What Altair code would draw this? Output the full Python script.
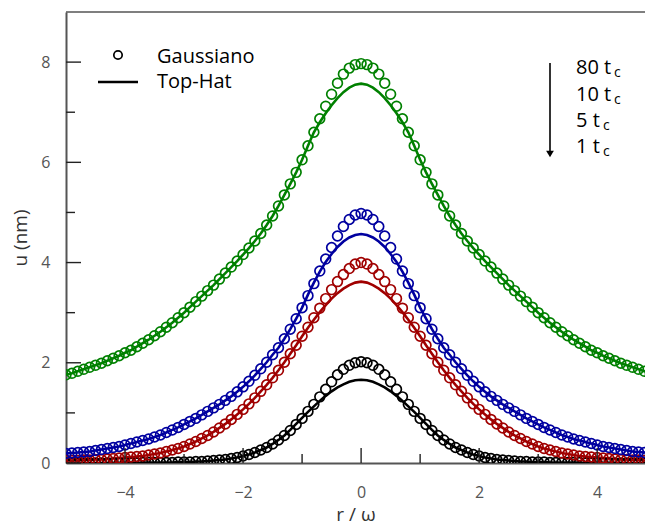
import altair as alt
import pandas as pd

# radial positions (half profile, r >= 0); profiles are symmetric about r = 0
r_half = [round(0.1 * i, 1) for i in range(51)]

series_names = ["1 tc", "5 tc", "10 tc", "80 tc"]
series_colors = ["#000000", "#a00000", "#0000a0", "#008000"]

gauss_80 = [7.97, 7.95, 7.88, 7.76, 7.58, 7.36, 7.12, 6.87, 6.60, 6.33,
            6.05, 5.80, 5.57, 5.35, 5.13, 4.93, 4.75, 4.58, 4.43, 4.29,
            4.16, 4.03, 3.91, 3.79, 3.67, 3.55, 3.44, 3.33, 3.22, 3.11,
            3.00, 2.90, 2.80, 2.71, 2.62, 2.54, 2.46, 2.39, 2.32, 2.25,
            2.20, 2.14, 2.09, 2.04, 1.99, 1.95, 1.91, 1.87, 1.83, 1.79, 1.76]
tophat_80 = [7.57, 7.55, 7.49, 7.40, 7.28, 7.14, 6.98, 6.80, 6.60, 6.33,
             6.05, 5.80, 5.57, 5.35, 5.13, 4.93, 4.75, 4.58, 4.43, 4.29,
             4.16, 4.03, 3.91, 3.79, 3.67, 3.55, 3.44, 3.33, 3.22, 3.11,
             3.00, 2.90, 2.80, 2.71, 2.62, 2.54, 2.46, 2.39, 2.32, 2.25,
             2.20, 2.14, 2.09, 2.04, 1.99, 1.95, 1.91, 1.87, 1.83, 1.79, 1.76]

gauss_10 = [4.98, 4.95, 4.86, 4.72, 4.53, 4.30, 4.07, 3.83, 3.58, 3.34,
            3.10, 2.88, 2.67, 2.48, 2.30, 2.16, 2.01, 1.88, 1.75, 1.63,
            1.52, 1.42, 1.33, 1.25, 1.17, 1.10, 1.03, 0.96, 0.89, 0.83,
            0.77, 0.71, 0.66, 0.61, 0.56, 0.52, 0.48, 0.45, 0.42, 0.39,
            0.36, 0.33, 0.31, 0.29, 0.27, 0.25, 0.23, 0.22, 0.21, 0.20, 0.19]
tophat_10 = [4.57, 4.55, 4.50, 4.42, 4.31, 4.17, 4.01, 3.82, 3.60, 3.36,
             3.10, 2.88, 2.67, 2.48, 2.30, 2.16, 2.01, 1.88, 1.75, 1.63,
             1.52, 1.42, 1.33, 1.25, 1.17, 1.10, 1.03, 0.96, 0.89, 0.83,
             0.77, 0.71, 0.66, 0.61, 0.56, 0.52, 0.48, 0.45, 0.42, 0.39,
             0.36, 0.33, 0.31, 0.29, 0.27, 0.25, 0.23, 0.22, 0.21, 0.20, 0.19]

gauss_5 = [4.00, 3.97, 3.88, 3.76, 3.62, 3.46, 3.28, 3.09, 2.90, 2.71,
           2.53, 2.35, 2.18, 2.01, 1.85, 1.70, 1.56, 1.43, 1.30, 1.18,
           1.07, 0.97, 0.87, 0.78, 0.70, 0.62, 0.55, 0.49, 0.43, 0.38,
           0.33, 0.29, 0.26, 0.23, 0.20, 0.18, 0.16, 0.14, 0.13, 0.12,
           0.11, 0.10, 0.09, 0.08, 0.07, 0.07, 0.06, 0.06, 0.05, 0.05, 0.05]
tophat_5 = [3.62, 3.60, 3.55, 3.48, 3.39, 3.28, 3.15, 3.01, 2.86, 2.70,
            2.53, 2.35, 2.18, 2.01, 1.85, 1.70, 1.56, 1.43, 1.30, 1.18,
            1.07, 0.97, 0.87, 0.78, 0.70, 0.62, 0.55, 0.49, 0.43, 0.38,
            0.33, 0.29, 0.26, 0.23, 0.20, 0.18, 0.16, 0.14, 0.13, 0.12,
            0.11, 0.10, 0.09, 0.08, 0.07, 0.07, 0.06, 0.06, 0.05, 0.05, 0.05]

gauss_1 = [2.02, 2.00, 1.95, 1.87, 1.76, 1.62, 1.47, 1.32, 1.17, 1.03,
           0.89, 0.77, 0.65, 0.55, 0.46, 0.38, 0.31, 0.26, 0.21, 0.17,
           0.14, 0.11, 0.09, 0.07, 0.06, 0.05, 0.04, 0.03, 0.03, 0.02,
           0.02, 0.02, 0.01, 0.01, 0.01, 0.01, 0.01, 0.01, 0.00, 0.00,
           0.00, 0.00, 0.00, 0.00, 0.00, 0.00, 0.00, 0.00, 0.00, 0.00, 0.00]
tophat_1 = [1.66, 1.65, 1.62, 1.57, 1.51, 1.43, 1.34, 1.24, 1.13, 1.02,
            0.90, 0.78, 0.66, 0.55, 0.46, 0.38, 0.31, 0.26, 0.21, 0.17,
            0.14, 0.11, 0.09, 0.07, 0.06, 0.05, 0.04, 0.03, 0.03, 0.02,
            0.02, 0.02, 0.01, 0.01, 0.01, 0.01, 0.01, 0.01, 0.00, 0.00,
            0.00, 0.00, 0.00, 0.00, 0.00, 0.00, 0.00, 0.00, 0.00, 0.00, 0.00]

y_major = [0, 2, 4, 6, 8]
y_minor = [1, 3, 5, 7]
x_major = [-4, -2, 0, 2, 4]
x_minor = [-3, -1, 1, 3]

FONT = "Open Sans"


def full(vals):
    return list(reversed(vals[1:])) + list(vals)


r_full = [-v for v in reversed(r_half[1:])] + r_half

gauss = {"1 tc": gauss_1, "5 tc": gauss_5, "10 tc": gauss_10, "80 tc": gauss_80}
tophat = {"1 tc": tophat_1, "5 tc": tophat_5, "10 tc": tophat_10, "80 tc": tophat_80}

rows_p, rows_l = [], []
for name in series_names:
    for r, u in zip(r_full, full(gauss[name])):
        rows_p.append({"r": r, "u": u, "series": name})
    for r, u in zip(r_full, full(tophat[name])):
        rows_l.append({"r": r, "u": u, "series": name})
df_p = pd.DataFrame(rows_p)
df_l = pd.DataFrame(rows_l)

xs = alt.Scale(domain=[-5, 4.81], nice=False, zero=False)
ys = alt.Scale(domain=[0, 9], nice=False, zero=False)
cs = alt.Scale(domain=series_names, range=series_colors)

x_axis = alt.Axis(values=x_major, title="r / ω", labelPadding=21, titlePadding=5)
y_axis = alt.Axis(values=y_major, title="u (nm)", labelPadding=16, titlePadding=10)

x_enc = alt.X("r:Q", scale=xs, axis=x_axis)
y_enc = alt.Y("u:Q", scale=ys, axis=y_axis)
color_enc = alt.Color("series:N", scale=cs, legend=None)

lines = alt.Chart(df_l).mark_line(strokeWidth=2.6, clip=True).encode(
    x=x_enc, y=y_enc, color=color_enc, detail="series:N"
)
points = alt.Chart(df_p).mark_point(shape="circle", filled=False, size=95, strokeWidth=1.7, opacity=1, clip=True).encode(
    x=x_enc, y=y_enc, color=color_enc
)

one = pd.DataFrame({"k": [0]})

# inward tick marks (drawn as rules through the same scales)
ymaj = alt.Chart(pd.DataFrame({"u": y_major})).mark_rule(color="#222", strokeWidth=1.4).encode(
    y=y_enc, x=alt.value(0), x2=alt.value(15))
ymin = alt.Chart(pd.DataFrame({"u": y_minor})).mark_rule(color="#222", strokeWidth=1.4).encode(
    y=y_enc, x=alt.value(0), x2=alt.value(9))
xmaj = alt.Chart(pd.DataFrame({"r": x_major})).mark_rule(color="#222", strokeWidth=1.4).encode(
    x=x_enc, y=alt.value(451), y2=alt.value(436))
xmin = alt.Chart(pd.DataFrame({"r": x_minor})).mark_rule(color="#222", strokeWidth=1.4).encode(
    x=x_enc, y=alt.value(451), y2=alt.value(442))
top_line = alt.Chart(one).mark_rule(color="#555", strokeWidth=1.6).encode(
    x=alt.value(0), x2=alt.value(579), y=alt.value(0))

# legend
leg_circle = alt.Chart(one).mark_point(shape="circle", filled=False, size=70, strokeWidth=1.7, color="black", opacity=1).encode(
    x=alt.value(52), y=alt.value(43))
leg_line = alt.Chart(one).mark_rule(color="black", strokeWidth=2.6).encode(
    x=alt.value(32), x2=alt.value(72), y=alt.value(70))
leg_t1 = alt.Chart(one).mark_text(align="left", baseline="middle", font=FONT, fontSize=20, color="black").encode(
    x=alt.value(91), y=alt.value(45), text=alt.value("Gaussiano"))
leg_t2 = alt.Chart(one).mark_text(align="left", baseline="middle", font=FONT, fontSize=20, color="black").encode(
    x=alt.value(91), y=alt.value(70), text=alt.value("Top-Hat"))

# time annotation
arrow_line = alt.Chart(one).mark_rule(color="black", strokeWidth=1.6).encode(
    x=alt.value(484), y=alt.value(51), y2=alt.value(141))
arrow_head = alt.Chart(one).mark_point(shape="triangle-down", filled=True, size=60, color="black", opacity=1).encode(
    x=alt.value(484), y=alt.value(142))

ann = []
labels = [("80 t", 56), ("10 t", 83), ("5 t", 109), ("1 t", 135)]
sub_x = [548, 548, 537, 537]
for (lab, ypos), sx in zip(labels, sub_x):
    ann.append(alt.Chart(one).mark_text(align="left", baseline="middle", font=FONT, fontSize=20, color="black").encode(
        x=alt.value(510), y=alt.value(ypos), text=alt.value(lab)))
    ann.append(alt.Chart(one).mark_text(align="left", baseline="middle", font=FONT, fontSize=14, color="black").encode(
        x=alt.value(sx), y=alt.value(ypos + 5), text=alt.value("c")))

chart = alt.layer(
    lines, points, ymaj, ymin, xmaj, xmin, top_line,
    leg_circle, leg_line, leg_t1, leg_t2, arrow_line, arrow_head, *ann
).properties(
    width=579, height=451,
    padding={"left": 66, "top": 12, "right": 0, "bottom": 64},
    autosize=alt.AutoSizeParams(type="none"),
).configure_view(stroke=None).configure_axis(
    grid=False, ticks=False, domainColor="#555", domainWidth=2,
    labelFont=FONT, labelFontSize=16, labelColor="#555",
    titleFont=FONT, titleFontSize=19, titleColor="#333", titleFontWeight="normal",
)

chart.save("out.html", embed_options={"renderer": "svg", "actions": False})
